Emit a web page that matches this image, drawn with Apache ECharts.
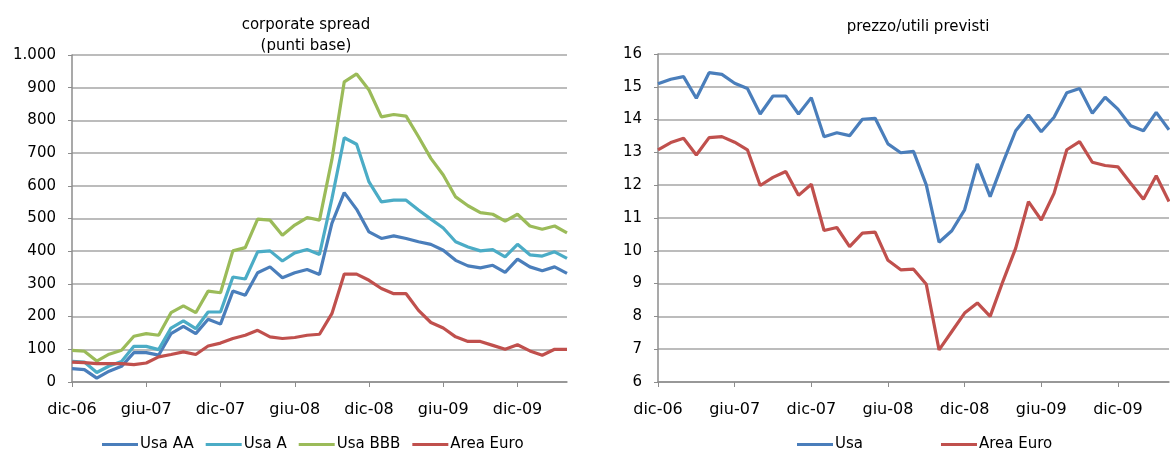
<!DOCTYPE html>
<html><head><meta charset="utf-8">
<script src="https://cdn.jsdelivr.net/npm/echarts@6/dist/echarts.min.js"></script>
<style>html,body{margin:0;padding:0;background:#fff}#c{width:1170px;height:451px}</style>
</head><body><div id="c"></div>
<script>
const months = ['gen','feb','mar','apr','mag','giu','lug','ago','set','ott','nov','dic'];
const categories = [];
for (let y = 6, m = 11; categories.length < 41; ) {
  categories.push(months[m] + '-' + String(y).padStart(2, '0'));
  m++; if (m === 12) { m = 0; y++; }
}
const usaAA = [41,38,12,33,48,90,90,82,148,170,148,192,177,278,265,334,352,319,334,344,329,485,579,528,459,439,447,439,429,421,403,372,355,349,357,335,376,352,340,352,332];
const usaA = [63,61,29,49,63,109,109,99,165,187,163,214,214,321,315,398,401,370,395,405,390,560,747,727,612,551,556,556,526,498,471,429,413,401,405,383,421,389,385,398,378];
const usaBBB = [97,94,64,85,97,140,148,143,212,233,212,278,273,401,411,498,495,449,480,503,495,680,918,942,893,811,818,813,750,684,633,566,539,518,513,492,513,477,467,477,456];
const euroSpread = [61,59,56,56,56,53,58,77,84,92,84,110,119,133,143,158,138,133,136,143,146,209,330,330,311,286,270,270,219,182,165,138,124,124,112,100,114,95,82,100,100];
const peUsa = [15.09,15.23,15.31,14.65,15.43,15.38,15.11,14.95,14.17,14.72,14.72,14.17,14.67,13.48,13.60,13.51,14.01,14.04,13.26,12.99,13.03,12.01,10.26,10.61,11.25,12.65,11.65,12.69,13.66,14.14,13.63,14.07,14.82,14.95,14.19,14.68,14.32,13.81,13.66,14.22,13.69];
const peEuro = [13.08,13.30,13.43,12.92,13.45,13.48,13.31,13.08,11.99,12.24,12.42,11.69,12.03,10.62,10.71,10.13,10.54,10.57,9.71,9.42,9.44,8.98,6.98,7.54,8.10,8.41,8.00,9.07,10.08,11.50,10.94,11.75,13.08,13.33,12.70,12.60,12.56,12.06,11.57,12.29,11.50];
const leftTitle = ['corporate spread', '(punti base)'];
const rightTitle = 'prezzo/utili previsti';

const FONT = 'DejaVu Sans';
const C = {aa:'#4a7ebb', a:'#4bacc6', bbb:'#9bbb59', eu:'#c0504d'};
const axisCol = '#8c8c8c';
function xAxis(gi){
  return {type:'category', gridIndex:gi, data:categories, boundaryGap:false,
    axisLine:{lineStyle:{color:axisCol,width:1.5}},
    axisTick:{interval:5, length:5, lineStyle:{color:axisCol}},
    axisLabel:{interval:5, color:'#000', fontFamily:FONT, fontSize:16, margin:20},
    splitLine:{show:false}};
}
function yAxis(gi, min, max, step, fmt){
  return {type:'value', gridIndex:gi, min, max, interval:step,
    axisLine:{show:true, lineStyle:{color:axisCol,width:1.5}},
    axisTick:{show:true, length:4, lineStyle:{color:axisCol}},
    axisLabel:{color:'#000', fontFamily:FONT, fontSize:15, margin:16, formatter:fmt},
    splitLine:{lineStyle:{color:'#a6a6a6', width:1.5}}};
}
function line(name, data, color, xi){
  return {type:'line', name, data, xAxisIndex:xi, yAxisIndex:xi, symbol:'none',
    lineStyle:{color, width:3.2}, itemStyle:{color}, animation:false};
}
const chart = echarts.init(document.getElementById('c'));
chart.setOption({
  animation:false,
  title:[
    {text:leftTitle.join('\n'), left:301, top:10, textAlign:'center',
     textStyle:{fontFamily:FONT, fontSize:15, fontWeight:'normal', color:'#000', lineHeight:21}},
    {text:rightTitle, left:913, top:15, textAlign:'center',
     textStyle:{fontFamily:FONT, fontSize:15, fontWeight:'normal', color:'#000'}}
  ],
  grid:[
    {left:72, top:55, width:495, height:327},
    {left:658, top:54, width:511, height:328}
  ],
  xAxis:[xAxis(0), xAxis(1)],
  yAxis:[
    yAxis(0, 0, 1000, 100, v => v >= 1000 ? String(v).replace(/\B(?=(\d{3})+(?!\d))/g, '.') : String(v)),
    yAxis(1, 6, 16, 1, v => String(v))
  ],
  legend:[
    {data:['Usa AA','Usa A','Usa BBB','Area Euro'], left:97, top:432, itemWidth:36, itemHeight:3, itemGap:12,
     icon:'rect', textStyle:{fontFamily:FONT, fontSize:15, color:'#000', padding:[0,0,0,-3]}},
    {data:['Usa',{name:'Area Euro'}], left:792, top:432, itemWidth:36, itemHeight:3, itemGap:78,
     icon:'rect', textStyle:{fontFamily:FONT, fontSize:15, color:'#000', padding:[0,0,0,-3]}}
  ],
  series:[
    line('Usa AA', usaAA, C.aa, 0),
    line('Usa A', usaA, C.a, 0),
    line('Usa BBB', usaBBB, C.bbb, 0),
    line('Area Euro', euroSpread, C.eu, 0),
    line('Usa', peUsa, C.aa, 1),
    line('Area Euro', peEuro, C.eu, 1)
  ]
});
</script></body></html>
